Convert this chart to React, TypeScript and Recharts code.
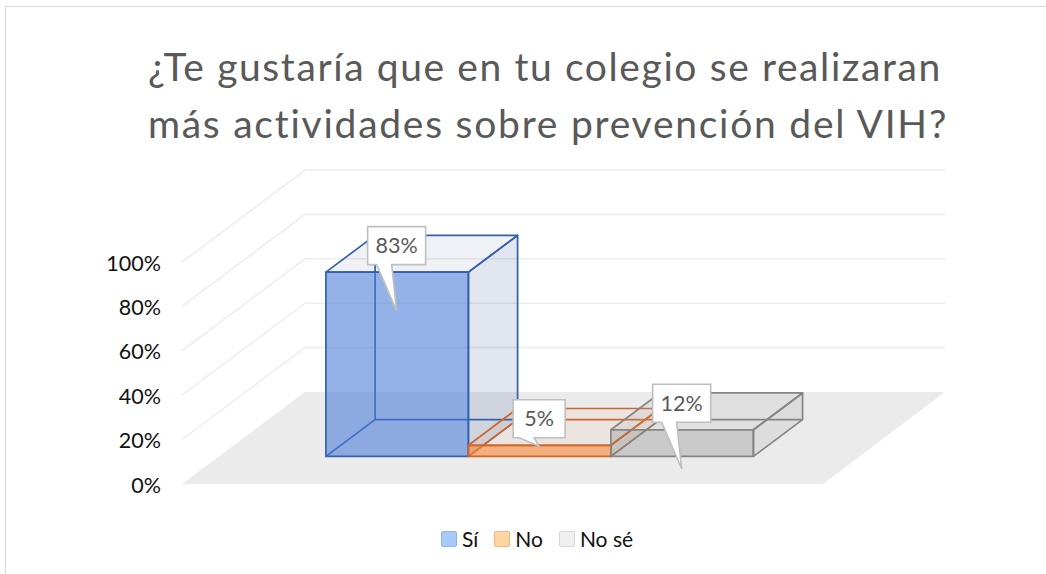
import React from 'react';
import { BarChart, Bar, YAxis, CartesianGrid, Legend, LabelList } from 'recharts';

const categories = ['Respuestas'];
const seriesNames = ['Sí', 'No', 'No sé'];
const seriesValues = [83, 5, 12];
const yTicks = [0, 20, 40, 60, 80, 100];
const titleLines = ['¿Te gustaría que en tu colegio se realizaran', 'más actividades sobre prevención del VIH?'];

const data = categories.map(name => {
  const row: Record<string, string | number> = { name };
  seriesNames.forEach((s, i) => {
    row[s] = seriesValues[i];
  });
  return row;
});

// depth of the fake 3D floor, in px
const DEPTH_X = 123;
const DEPTH_Y = 92;
const BAR_DEPTH = 0.4;
const BAR_GAP_DEPTH = 0.3;
const WALL_RIGHT = 945;

const tones = [
  { stroke: '#3560ab', front: 'rgba(70,120,215,0.58)', side: 'rgba(61,92,155,0.16)', top: 'rgba(55,80,142,0.08)', swatch: '#a9c9f7', swatchBorder: '#8fb4ee' },
  { stroke: '#d0672a', front: 'rgba(252,130,47,0.58)', side: 'rgba(237,125,49,0.10)', top: 'rgba(237,125,49,0.06)', swatch: '#fdd6a3', swatchBorder: '#f5b27f' },
  { stroke: '#858585', front: 'rgba(130,130,130,0.31)', side: 'rgba(165,165,165,0.2)', top: 'rgba(165,165,165,0.16)', swatch: '#f0f0f0', swatchBorder: '#d9d9d9' },
];

// per bar: how far the tail tip goes below the bar top
const tailDrops = [39, 1, 39];

const Box3D = (props: any) => {
  const { x, y, width, height, tone } = props;
  const x0 = x + DEPTH_X * BAR_GAP_DEPTH;
  const yTop = y - DEPTH_Y * BAR_GAP_DEPTH;
  const yBase = yTop + height;
  const x1 = x0 + width;
  const dx = DEPTH_X * BAR_DEPTH;
  const dy = DEPTH_Y * BAR_DEPTH;
  const line = { stroke: tone.stroke, strokeWidth: 1.7, strokeLinejoin: 'round' as const };
  return (
    <g>
      <polygon points={`${x1},${yTop} ${x1 + dx},${yTop - dy} ${x1 + dx},${yBase - dy} ${x1},${yBase}`} fill={tone.side} {...line} />
      <polygon points={`${x0},${yTop} ${x0 + dx},${yTop - dy} ${x1 + dx},${yTop - dy} ${x1},${yTop}`} fill={tone.top} {...line} />
      <polyline points={`${x0},${yBase} ${x0 + dx},${yBase - dy} ${x1 + dx},${yBase - dy}`} fill="none" {...line} />
      <line x1={x0 + dx} y1={yTop - dy} x2={x0 + dx} y2={yBase - dy} {...line} />
      <rect x={x0} y={yTop} width={width} height={height} fill={tone.front} {...line} />
    </g>
  );
};

const Callout = (props: any) => {
  const { value, index, viewBox, drop } = props;
  const vb = viewBox || props;
  const cx = vb.x + vb.width / 2 + DEPTH_X * BAR_GAP_DEPTH - 0.5;
  const barTop = vb.y - DEPTH_Y * BAR_GAP_DEPTH;
  const w = index === 1 ? 52 : 58;
  const h = 38;
  const top = barTop - 45.5;
  const bottom = top + h;
  const left = cx - w / 2;
  const right = cx + w / 2;
  const tipY = barTop + drop;
  const points = [
    [left, top],
    [right, top],
    [right, bottom],
    [cx - 5, bottom],
    [cx, tipY],
    [cx - 20, bottom],
    [left, bottom],
  ]
    .map(p => p.join(','))
    .join(' ');
  return (
    <g>
      <polygon points={points} fill="#ffffff" stroke="#bfbfbf" strokeWidth={1.6} />
      <text x={cx} y={top + h / 2 + 7.5} textAnchor="middle" fontSize={21.5} fill="#595959" fontFamily="Lato">
        {`${value}%`}
      </text>
    </g>
  );
};

// gridlines run along the left wall and the back wall, the 0 line becomes the floor
const WallLine = (props: any) => {
  const { x1, y1, x2 } = props;
  if (y1 > 480) {
    return (
      <polygon
        key="floor"
        points={`${x1},${y1} ${x1 + DEPTH_X},${y1 - DEPTH_Y} ${WALL_RIGHT},${y1 - DEPTH_Y} ${x2},${y1}`}
        fill="#ebebeb"
      />
    );
  }
  return (
    <polyline
      key={`wall-${y1}`}
      points={`${x1},${y1} ${x1 + DEPTH_X},${y1 - DEPTH_Y} ${WALL_RIGHT},${y1 - DEPTH_Y}`}
      fill="none"
      stroke="#eeeeee"
      strokeWidth={1.6}
    />
  );
};

const LegendRow = ({ payload }: any) => (
  <div style={{ display: 'flex', justifyContent: 'center', fontFamily: 'Lato', fontSize: 21, color: '#111', lineHeight: '26px' }}>
    {(payload || []).map((entry: any, i: number) => (
      <div key={entry.value} style={{ display: 'flex', alignItems: 'center', marginLeft: i === 0 ? 0 : 16 }}>
        <span
          style={{
            display: 'inline-block',
            boxSizing: 'border-box',
            width: 16,
            height: 16,
            marginRight: 5,
            borderRadius: 2,
            background: tones[i].swatch,
            border: `1.5px solid ${tones[i].swatchBorder}`,
          }}
        />
        {entry.value}
      </div>
    ))}
  </div>
);

export default function App() {
  return (
    <div style={{ position: 'absolute', left: 0, top: 0, width: 1046, height: 574, overflow: 'hidden', background: '#fff' }}>
      <div style={{ position: 'absolute', left: 5, top: 6, width: 1100, height: 600, border: '1.5px solid #d9d9d9' }} />
      <div
        style={{
          position: 'absolute',
          left: 0,
          top: 38,
          width: 1090,
          textAlign: 'center',
          fontFamily: 'Lato',
          fontSize: 39,
          lineHeight: '57px',
          color: '#595959',
        }}
      >
        <div style={{ letterSpacing: 1.6 }}>{titleLines[0]}</div>
        <div style={{ letterSpacing: 1.75, marginLeft: 6 }}>{titleLines[1]}</div>
      </div>
      <div style={{ position: 'absolute', left: 0, top: 0 }}>
        <BarChart
          width={1046}
          height={574}
          data={data}
          barSize={142.5}
          barGap={0}
          margin={{ top: 262, left: 122, right: 223, bottom: 90 }}
        >
          <CartesianGrid vertical={false} horizontal={(p: any) => <WallLine {...p} />} />
          <YAxis
            width={60}
            domain={[0, 100]}
            ticks={yTicks}
            axisLine={false}
            tickLine={false}
            tickSize={0}
            tickMargin={21}
            tickFormatter={(v: number) => `${v}%`}
            tick={{ fontFamily: 'Lato', fontSize: 21.5, fill: '#111', dy: 1 }}
          />
          <Legend
            layout="horizontal"
            verticalAlign="middle"
            align="center"
            itemSorter={null}
            content={<LegendRow />}
            wrapperStyle={{ top: 526, left: 0, width: 1074 }}
          />
          {seriesNames.map((s, i) => (
            <Bar
              key={s}
              dataKey={s}
              name={s}
              fill={tones[i].swatch}
              isAnimationActive={false}
              shape={(p: any) => <Box3D {...p} tone={tones[i]} />}
            >
              <LabelList dataKey={s} content={(p: any) => <Callout {...p} index={i} drop={tailDrops[i]} />} />
            </Bar>
          ))}
        </BarChart>
      </div>
    </div>
  );
}
